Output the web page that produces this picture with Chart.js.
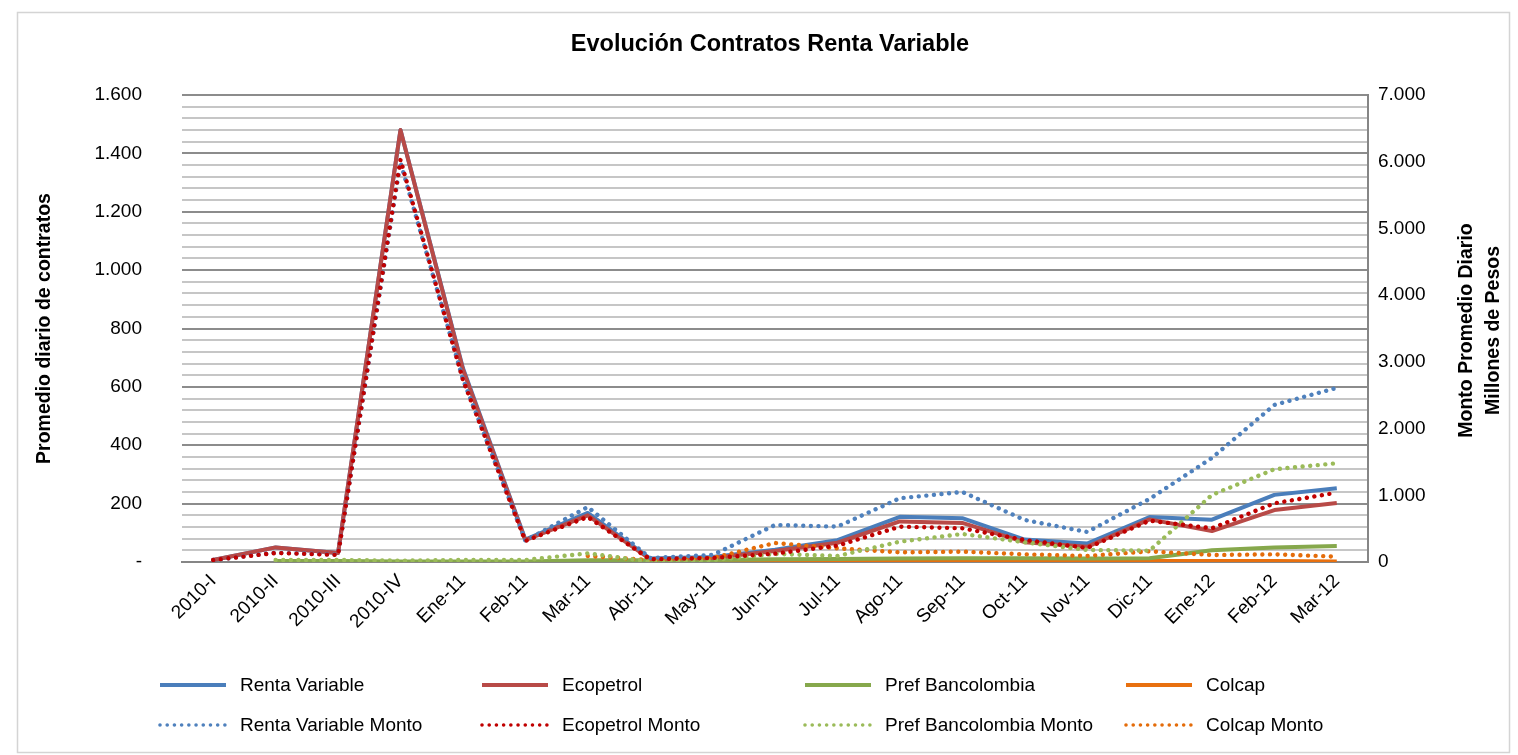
<!DOCTYPE html>
<html>
<head>
<meta charset="utf-8">
<script src="https://cdn.jsdelivr.net/npm/chart.js@4.4.1/dist/chart.umd.min.js"></script>
<style>
html,body{margin:0;padding:0;background:#fff;}
#wrap{position:relative;width:1518px;height:755px;}
canvas{display:block;}
</style>
</head>
<body>
<div id="wrap"><canvas id="c" width="1518" height="755"></canvas></div>
<script>
// ---- Data ----
const categories = ['2010-I','2010-II','2010-III','2010-IV','Ene-11','Feb-11','Mar-11','Abr-11','May-11','Jun-11','Jul-11','Ago-11','Sep-11','Oct-11','Nov-11','Dic-11','Ene-12','Feb-12','Mar-12'];

// Promedio diario de contratos (left axis)
const rentaVariable   = [7, 50, 31, 1480, 665, 77, 168, 12, 17, 42, 75, 155, 150, 77, 63, 154, 145, 230, 253];
const ecopetrol       = [7, 50, 31, 1480, 660, 75, 160, 10, 14, 38, 66, 139, 134, 68, 52, 146, 106, 178, 202];
const prefBancolombia = [null, 3, 3, 2, 2, 2, 6, 6, 7, 9, 10, 12, 13, 13, 12, 13, 40, 50, 55];
const colcap          = [null, null, null, null, null, null, 3, 3, 3, 4, 4, 4, 4, 4, 3, 3, 3, 3, 2];

// Monto promedio diario, millones de pesos (right axis)
const rentaVariableMonto   = [30, 140, 110, 5990, 2740, 320, 825, 60, 105, 555, 530, 955, 1050, 630, 450, 945, 1560, 2355, 2610];
const ecopetrolMonto       = [30, 135, 105, 6030, 2730, 315, 675, 40, 60, 125, 245, 530, 505, 330, 210, 620, 505, 880, 1040];
const prefBancolombiaMonto = [null, 30, 30, 20, 30, 30, 130, 5, 30, 120, 90, 305, 420, 295, 180, 170, 1005, 1390, 1480];
const colcapMonto          = [null, null, null, null, null, null, 90, 30, 60, 285, 205, 145, 155, 115, 90, 160, 105, 115, 80];

// Axis ticks
const leftMax = 1600, leftStep = 40, leftLabelStep = 200;
const rightMax = 7000, rightStep = 1000;

const titleText = 'Evolución Contratos Renta Variable';
const leftTitle = 'Promedio diario de contratos';
const rightTitle = ['Monto Promedio Diario', 'Millones de Pesos'];

function fmtNum(v){ return String(v).replace(/\B(?=(\d{3})+(?!\d))/g, '.'); }

const FONT = "'Liberation Sans', Arial, sans-serif";
Chart.defaults.font.family = FONT;
Chart.defaults.color = '#000';

const dotted = [0.01, 7.6];
function solid(label, data, color, order){
  return {label, data, borderColor: color, backgroundColor: color, borderWidth: 4,
    pointRadius: 0, pointHoverRadius: 0, tension: 0, yAxisID: 'y', order, borderCapStyle: 'butt', borderJoinStyle: 'round'};
}
function dots(label, data, color, order){
  return {label, data, borderColor: color, backgroundColor: color, borderWidth: 4.4,
    borderDash: dotted, borderCapStyle: 'round', pointRadius: 0, pointHoverRadius: 0, tension: 0, yAxisID: 'y1', order};
}

const datasets = [
  solid('Renta Variable', rentaVariable, '#4a7ebb', 5),
  solid('Ecopetrol', ecopetrol, '#b84a47', 4),
  solid('Pref Bancolombia', prefBancolombia, '#86a84c', 6),
  solid('Colcap', colcap, '#e8700f', 7),
  dots('Renta Variable Monto', rentaVariableMonto, '#4f81bd', 1),
  dots('Ecopetrol Monto', ecopetrolMonto, '#c00000', 0),
  dots('Pref Bancolombia Monto', prefBancolombiaMonto, '#9bbb59', 2),
  dots('Colcap Monto', colcapMonto, '#e46c0a', 3)
];

const PAD_LEFT = 22;
const PLOT = {left: 182, right: 1368, top: 95, bottom: 562};

const customPlugin = {
  id: 'custom',
  beforeDraw(chart){
    const ctx = chart.ctx;
    ctx.save();
    ctx.fillStyle = '#fff';
    ctx.fillRect(0, 0, chart.width, chart.height);
    ctx.strokeStyle = '#d4d4d4';
    ctx.lineWidth = 1.5;
    ctx.strokeRect(17.5, 12.5, 1492, 740);
    ctx.restore();
  },
  afterDraw(chart){
    const ctx = chart.ctx;
    ctx.save();
    // right axis title (reads bottom to top)
    const ca = chart.chartArea;
    const cy = (ca.top + ca.bottom) / 2 + 2;
    const rt = chart.options.scales.y1.title.text;
    ctx.font = "bold 19.5px " + FONT;
    ctx.fillStyle = '#000';
    ctx.textAlign = 'center';
    ctx.textBaseline = 'middle';
    const xs = [1467, 1494];
    rt.forEach((t, i) => {
      ctx.save();
      ctx.translate(xs[i], cy);
      ctx.rotate(-Math.PI / 2);
      ctx.fillText(t, 0, 0);
      ctx.restore();
    });
    // legend grid (4 columns x 2 rows)
    const colX = [158, 480, 803, 1124];
    const rowY = [685, 725];
    ctx.font = "19px " + FONT;
    ctx.textAlign = 'left';
    chart.data.datasets.forEach((ds, i) => {
      const col = i % 4, row = Math.floor(i / 4);
      const x = colX[col], y = rowY[row];
      ctx.save();
      ctx.strokeStyle = ds.borderColor;
      if (ds.borderDash) { ctx.lineWidth = 3.6; ctx.setLineDash([0.01, 7.2]); ctx.lineCap = 'round'; }
      else { ctx.lineWidth = ds.borderWidth; ctx.lineCap = 'butt'; }
      ctx.beginPath();
      ctx.moveTo(x + 2, y);
      ctx.lineTo(x + 68, y);
      ctx.stroke();
      ctx.restore();
      ctx.fillStyle = '#000';
      ctx.textBaseline = 'middle';
      ctx.fillText(ds.label, x + 82, y + 1);
    });
    ctx.restore();
  }
};

new Chart(document.getElementById('c'), {
  type: 'line',
  data: {labels: categories, datasets},
  plugins: [customPlugin],
  options: {
    responsive: false,
    devicePixelRatio: 1,
    animation: false,
    spanGaps: false,
    layout: {padding: {top: 0, left: PAD_LEFT, right: 0, bottom: 0}},
    plugins: {
      legend: {display: false},
      tooltip: {enabled: false},
      title: {display: true, text: titleText, color: '#000',
        font: {size: 23.5, weight: 'bold', family: FONT, lineHeight: 1.2},
        padding: {top: 30, bottom: 36.8}}
    },
    scales: {
      x: {
        type: 'category', offset: true,
        grid: {display: false, drawTicks: false},
        border: {display: true, color: '#868686', width: 2},
        ticks: {autoSkip: false, maxRotation: 45, minRotation: 45, padding: 8,
          font: {size: 19, family: FONT}, color: '#000'},
        afterFit(s){ s.height = 755 - PLOT.bottom; }
      },
      y: {
        position: 'left', min: 0, max: leftMax,
        grid: {drawTicks: false, lineWidth: 2,
          color: (c) => (c.tick && c.tick.value % leftLabelStep === 0) ? '#8c8c8c' : '#c6c6c6'},
        border: {display: false},
        ticks: {stepSize: leftStep, autoSkip: false, padding: 40,
          font: {size: 19, family: FONT}, color: '#000',
          callback: (v) => v === 0 ? '-' : (v % leftLabelStep === 0 ? fmtNum(v) : '')},
        title: {display: true, text: leftTitle, color: '#000',
          font: {size: 19.5, weight: 'bold', family: FONT}, padding: {top: 33 - PAD_LEFT, bottom: 0}},
        afterFit(s){ s.width = PLOT.left - PAD_LEFT; }
      },
      y1: {
        position: 'right', min: 0, max: rightMax,
        grid: {display: false, drawOnChartArea: false, drawTicks: false},
        border: {display: true, color: '#868686', width: 2},
        ticks: {stepSize: rightStep, autoSkip: false, padding: 10,
          font: {size: 19, family: FONT}, color: '#000',
          callback: (v) => fmtNum(v)},
        title: {display: false, text: rightTitle},
        afterFit(s){ s.width = 1518 - PLOT.right; }
      }
    }
  }
});
</script>
</body>
</html>
